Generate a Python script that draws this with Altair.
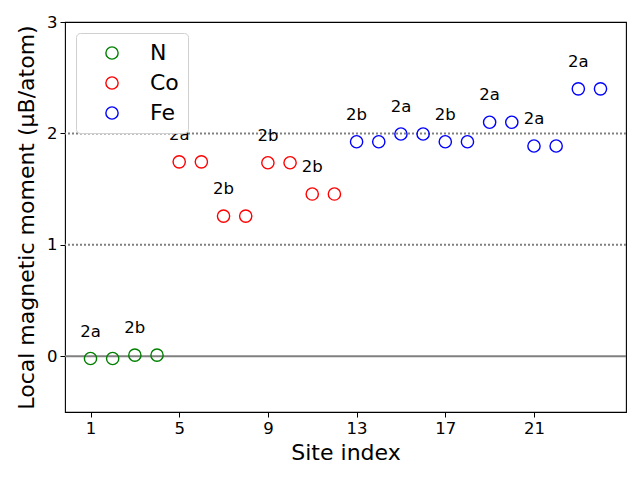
import altair as alt
import pandas as pd

site = list(range(1, 25))
element = ["N"] * 4 + ["Co"] * 8 + ["Fe"] * 12
moment = [-0.02, -0.02, 0.01, 0.01,
          1.745, 1.745, 1.258, 1.258, 1.737, 1.737, 1.456, 1.456,
          1.925, 1.925, 1.995, 1.995, 1.925, 1.925, 2.10, 2.10, 1.887, 1.887, 2.40, 2.40]

label_site = [1, 3, 5, 7, 9, 11, 13, 15, 17, 19, 21, 23]
label_text = ["2a", "2b", "2a", "2b", "2b", "2b", "2b", "2a", "2b", "2a", "2a", "2a"]
label_moment = [moment[s - 1] for s in label_site]

ref_solid = [0]
ref_dotted = [1, 2]

elements = ["N", "Co", "Fe"]
colors = ["green", "red", "blue"]

df = pd.DataFrame({"site": site, "element": element, "moment": moment})
dl = pd.DataFrame({"site": label_site, "label": label_text, "moment": label_moment})

xs = alt.Scale(domain=[-0.15, 25.15], nice=False, zero=False)
ys = alt.Scale(domain=[-0.5, 3], nice=False, zero=False)

solid = alt.Chart(pd.DataFrame({"y": ref_solid})).mark_rule(color="gray", strokeWidth=2).encode(
    y=alt.Y("y:Q", scale=ys))
dotted = alt.Chart(pd.DataFrame({"y": ref_dotted})).mark_rule(
    color="gray", strokeWidth=2, strokeDash=[2, 2]).encode(y=alt.Y("y:Q", scale=ys))

points = alt.Chart(df).mark_point(shape="circle", filled=False, size=150, strokeWidth=1.4, opacity=1).encode(
    x=alt.X("site:Q", scale=xs,
            axis=alt.Axis(values=[1, 5, 9, 13, 17, 21], format="d", title="Site index")),
    y=alt.Y("moment:Q", scale=ys,
            axis=alt.Axis(values=[0, 1, 2, 3], format="d", title="Local magnetic moment (μB/atom)")),
    color=alt.Color("element:N", scale=alt.Scale(domain=elements, range=colors), sort=elements,
                    legend=alt.Legend(title=None, orient="top-left", offset=11,
                                      symbolType="circle", symbolSize=150, symbolStrokeWidth=1.4,
                                      symbolFillColor="transparent", labelFontSize=22,
                                      labelColor="black", rowPadding=8, padding=9,
                                      symbolOffset=16, labelOffset=27,
                                      strokeColor="#d0d0d0", cornerRadius=4, fillColor="white")),
)

labels = alt.Chart(dl).mark_text(fontSize=16.5, dy=-22, baseline="alphabetic", align="center",
                                 color="black", font="DejaVu Sans").encode(
    x=alt.X("site:Q", scale=xs), y=alt.Y("moment:Q", scale=ys), text="label:N")

chart = alt.layer(dotted, solid, points, labels).properties(
    width=561, height=390,
    autosize=alt.AutoSizeParams(type="none"),
    padding={"left": 57, "top": 14, "right": 6, "bottom": 60},
).configure(font="DejaVu Sans").configure_view(
    stroke="black", strokeWidth=1.1
).configure_axis(
    grid=False, domain=False, tickColor="black", tickSize=5, labelFontSize=16.5, labelColor="black",
    titleFontSize=22, titleFontWeight="normal", titleColor="black",
).configure_axisX(titlePadding=6, labelPadding=3).configure_axisY(titlePadding=8, labelPadding=3)

chart.save("out.html", embed_options={"renderer": "svg", "actions": False})
